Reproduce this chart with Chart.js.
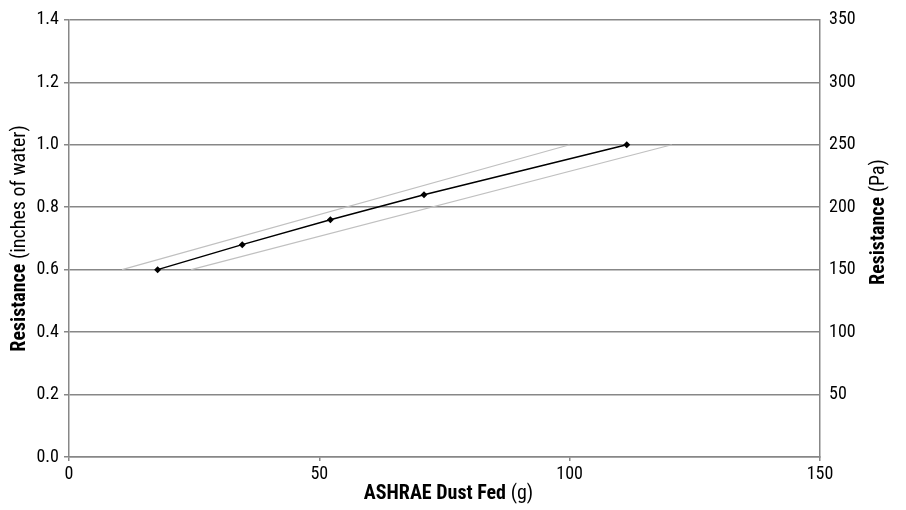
<!DOCTYPE html>
<html>
<head>
<meta charset="utf-8">
<script src="https://cdn.jsdelivr.net/npm/chart.js@4"></script>
<style>
  html, body { margin: 0; padding: 0; background: #fff; }
  #wrap { width: 906px; height: 510px; position: relative; }
</style>
</head>
<body>
<div id="wrap"><canvas id="c"></canvas></div>
<script>
// ---- data ----
const dustFed = [17.7, 34.6, 52.2, 70.9, 111.4];          // g
const resistance = [0.60, 0.68, 0.76, 0.84, 1.00];       // inches of water
const upperBandX = [10.6, 100];
const upperBandY = [0.60, 1.00];
const lowerBandX = [24.4, 120.4];
const lowerBandY = [0.60, 1.00];
const xTicks = [0, 50, 100, 150];
const yLeftTicks = [0.0, 0.2, 0.4, 0.6, 0.8, 1.0, 1.2, 1.4];
const yRightTicks = [0, 50, 100, 150, 200, 250, 300, 350];

const FONT = "'Liberation Sans Narrow', 'Arial Narrow', 'Roboto Condensed', Roboto, sans-serif";
const FS = 18;
const TFS = 20;
const GRID = '#878787';

const toPts = (xs, ys) => xs.map((x, i) => ({ x: x, y: ys[i] }));

const titlePlugin = {
  id: 'mixedTitles',
  afterDraw(chart) {
    const ctx = chart.ctx;
    const a = chart.chartArea;
    function drawMixed(parts, cx, cy, rot) {
      ctx.save();
      ctx.translate(cx, cy);
      ctx.rotate(rot);
      ctx.textBaseline = 'middle';
      ctx.textAlign = 'left';
      ctx.fillStyle = '#000';
      let total = 0;
      const widths = parts.map(p => { ctx.font = p.font; const w = ctx.measureText(p.text).width; total += w; return w; });
      let x = -total / 2;
      parts.forEach((p, i) => { ctx.font = p.font; ctx.fillText(p.text, x, 0); x += widths[i]; });
      ctx.restore();
    }
    const bold = 'bold ' + TFS + 'px ' + FONT;
    const reg = TFS + 'px ' + FONT;
    drawMixed([{ text: 'ASHRAE Dust Fed ', font: bold }, { text: '(g)', font: reg }],
      (a.left + a.right) / 2 + 4, 494, 0);
    drawMixed([{ text: 'Resistance ', font: bold }, { text: '(inches of water)', font: reg }],
      20, (a.top + a.bottom) / 2, -Math.PI / 2);
    drawMixed([{ text: 'Resistance ', font: bold }, { text: '(Pa)', font: reg }],
      879, 222, -Math.PI / 2);
  }
};

new Chart(document.getElementById('c'), {
  type: 'scatter',
  data: {
    datasets: [
      {
        label: 'Resistance',
        data: toPts(dustFed, resistance),
        showLine: true,
        borderColor: '#000',
        backgroundColor: '#000',
        borderWidth: 1.5,
        pointStyle: 'rectRot',
        pointRadius: 3.5,
        pointBorderWidth: 0,
        yAxisID: 'y',
        order: 0
      },
      {
        label: 'Upper band',
        data: toPts(upperBandX, upperBandY),
        showLine: true,
        borderColor: '#c0c0c0',
        borderWidth: 1.2,
        pointRadius: 0,
        yAxisID: 'y',
        order: 1
      },
      {
        label: 'Lower band',
        data: toPts(lowerBandX, lowerBandY),
        showLine: true,
        borderColor: '#c0c0c0',
        borderWidth: 1.2,
        pointRadius: 0,
        yAxisID: 'y',
        order: 1
      }
    ]
  },
  options: {
    responsive: true,
    maintainAspectRatio: false,
    animation: false,
    layout: { padding: { top: 16, left: 0, right: 0, bottom: 0 } },
    plugins: { legend: { display: false }, tooltip: { enabled: false } },
    scales: {
      x: {
        type: 'linear',
        min: xTicks[0], max: xTicks[xTicks.length - 1],
        afterBuildTicks: s => { s.ticks = xTicks.map(v => ({ value: v })); },
        afterFit: s => { s.height = 53; },
        grid: { drawOnChartArea: false, drawTicks: true, tickLength: 4, color: GRID, lineWidth: 1.5 },
        border: { display: true, color: GRID, width: 1.5 },
        ticks: { color: '#000', font: { family: FONT, size: FS }, padding: 3, maxRotation: 0 }
      },
      y: {
        type: 'linear', position: 'left',
        min: 0, max: 1.4,
        afterBuildTicks: s => { s.ticks = yLeftTicks.map(v => ({ value: v })); },
        afterFit: s => { s.width = 69; },
        grid: { drawOnChartArea: true, drawTicks: true, tickLength: 5, color: GRID, lineWidth: 1.5 },
        border: { display: true, color: GRID, width: 1.5 },
        ticks: { color: '#000', font: { family: FONT, size: FS }, padding: 5,
                 callback: v => Number(v).toFixed(1) }
      },
      y1: {
        type: 'linear', position: 'right',
        min: 0, max: 350,
        afterBuildTicks: s => { s.ticks = yRightTicks.map(v => ({ value: v })); },
        afterFit: s => { s.width = 86; },
        grid: { display: false, drawOnChartArea: false, drawTicks: false },
        border: { display: true, color: GRID, width: 1.5 },
        ticks: { color: '#000', font: { family: FONT, size: FS }, padding: 9,
                 callback: v => (v === 0 ? '' : String(v)) }
      }
    }
  },
  plugins: [titlePlugin]
});
</script>
</body>
</html>
